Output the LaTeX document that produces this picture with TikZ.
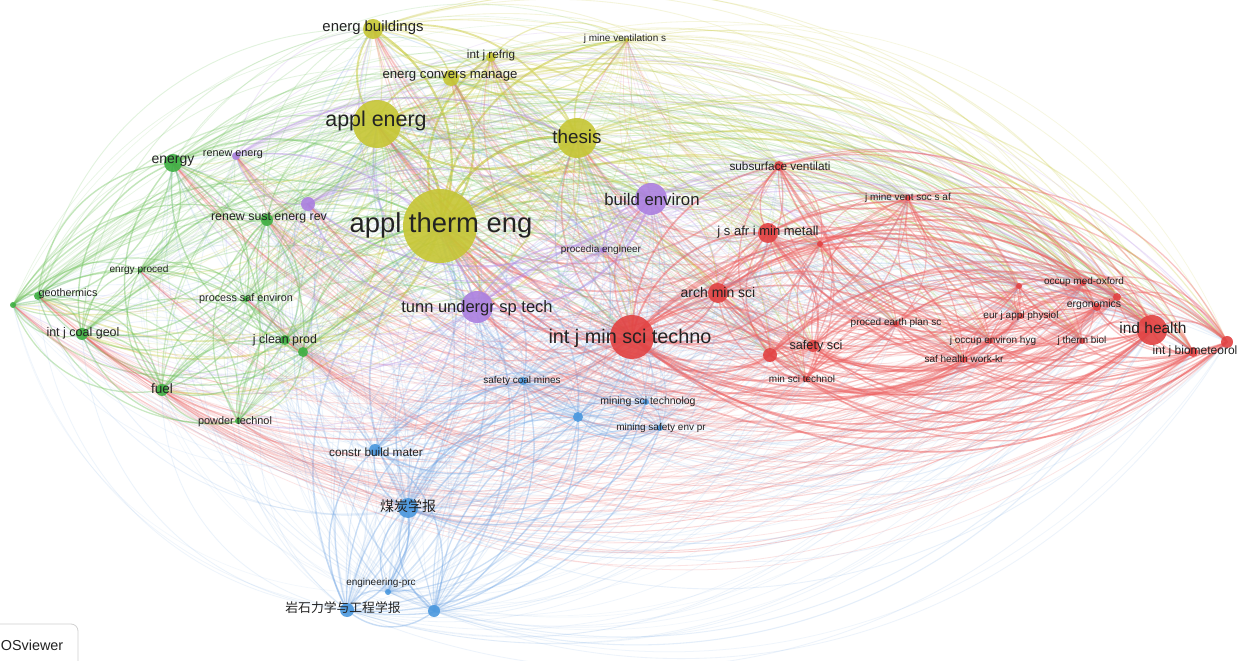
\documentclass[tikz,border=0pt]{standalone}
\usepackage{fontspec}
\setmainfont{Liberation Sans}
\newfontfamily\cjk{Noto Sans CJK SC}
\definecolor{K1}{RGB}{198,198,52}
\definecolor{K2}{RGB}{62,176,66}
\definecolor{K3}{RGB}{172,128,224}
\definecolor{K4}{RGB}{226,66,66}
\definecolor{K5}{RGB}{74,152,222}
\definecolor{E1}{RGB}{205,205,70}
\definecolor{E2}{RGB}{110,195,90}
\definecolor{E3}{RGB}{185,145,230}
\definecolor{E4}{RGB}{238,100,100}
\definecolor{E5}{RGB}{120,170,230}
\definecolor{labtext}{RGB}{35,35,35}
\pgfdeclarelayer{back}
\pgfdeclarelayer{bg}
\pgfsetlayers{back,bg,main}
\def\SC{0.25}
\tikzset{
  vnode/.style={circle, inner sep=0pt, draw=none, fill opacity=0.9},
  lab/.style={text=labtext, inner sep=0pt},
  vosbox/.style={draw=black!18, rounded corners=1.75pt, fill=white, line width=0.2pt}
}
\newcommand\vn[5]{%
  \pgfmathsetmacro\nsz{2*#4*\SC}%
  \node[vnode, fill=K#5, minimum size=\nsz pt] (n#1) at (#2,#3) {};
  \expandafter\xdef\csname vcl#1\endcsname{#5}%
  \expandafter\xdef\csname vrd#1\endcsname{#4}}
\newcommand\vl[5]{%
  \pgfmathsetmacro\fsz{#4*\SC}%
  \node[lab, font=\fontsize{\fsz}{\fsz}\selectfont] (t#1) at (#2,#3) {#5};}
\begin{document}
\begin{tikzpicture}[x=\SC pt,y=-\SC pt]
\useasboundingbox (0,0) rectangle (1239,661);
\begin{pgfonlayer}{back}
\fill[white] (0,0) rectangle (1239,661);
\end{pgfonlayer}
% nodes
\vn{1}{440}{226}{37}{1}
\vn{2}{377}{124}{24}{1}
\vn{3}{577}{138}{20}{1}
\vn{4}{373}{29}{10}{1}
\vn{5}{491}{57}{5}{1}
\vn{6}{451}{78}{8}{1}
\vn{7}{627}{40}{2}{1}
\vn{8}{173}{163}{9}{2}
\vn{9}{267}{220}{6}{2}
\vn{10}{140}{271}{2}{2}
\vn{11}{38}{296}{4}{2}
\vn{12}{13}{305}{3}{2}
\vn{13}{82}{334}{6}{2}
\vn{14}{246}{299}{3}{2}
\vn{15}{285}{340}{5}{2}
\vn{16}{303}{352}{5}{2}
\vn{17}{162}{390}{6}{2}
\vn{18}{238}{421}{3}{2}
\vn{19}{236}{156}{4}{3}
\vn{20}{308}{204}{7}{3}
\vn{21}{651}{199}{16}{3}
\vn{22}{603}{250}{3}{3}
\vn{23}{477}{307}{16}{3}
\vn{24}{632}{337}{22}{4}
\vn{25}{718}{293}{10}{4}
\vn{26}{768}{233}{10}{4}
\vn{27}{820}{244}{3}{4}
\vn{28}{779}{166}{5}{4}
\vn{29}{908}{198}{3}{4}
\vn{30}{813}{346}{6}{4}
\vn{31}{770}{355}{7}{4}
\vn{32}{806}{379}{3}{4}
\vn{33}{896}{324}{3}{4}
\vn{34}{1019}{286}{3}{4}
\vn{35}{1083}{283}{3}{4}
\vn{36}{1097}{307}{4}{4}
\vn{37}{1021}{316}{3}{4}
\vn{38}{990}{341}{3}{4}
\vn{39}{1082}{341}{3}{4}
\vn{40}{964}{360}{3}{4}
\vn{41}{1152}{330}{15}{4}
\vn{42}{1193}{352}{5}{4}
\vn{43}{1227}{342}{6}{4}
\vn{44}{1117}{297}{4}{4}
\vn{45}{523}{381}{4}{5}
\vn{46}{646}{402}{3}{5}
\vn{47}{578}{417}{5}{5}
\vn{48}{660}{428}{3}{5}
\vn{49}{375}{450}{6}{5}
\vn{50}{408}{508}{10}{5}
\vn{51}{388}{592}{3}{5}
\vn{52}{347}{610}{7}{5}
\vn{53}{434}{611}{6}{5}
% edges
\begin{pgfonlayer}{bg}
\foreach \i in {1,...,52}{
  \pgfmathtruncatemacro\k{\i+1}
  \foreach \j in {\k,...,53}{
    \edef\ci{\csname vcl\i\endcsname}%
    \edef\cj{\csname vcl\j\endcsname}%
    \edef\ri{\csname vrd\i\endcsname}%
    \edef\rj{\csname vrd\j\endcsname}%
    \pgfmathtruncatemacro\pp{mod(\i+\j,2)}%
    \pgfmathtruncatemacro\same{\ci==\cj}%
    \pgfmathtruncatemacro\blu{or(\ci==5,\cj==5)*(1-\same)}%
    \pgfmathsetmacro\eo{min(0.72,0.10+0.007*(\ri+\rj)+0.22*\same-0.05*\blu)}%
    \pgfmathsetmacro\ew{(0.55+0.025*(\ri+\rj)+0.5*\same)*\SC}%
    \ifnum\pp=0 \edef\ec{E\ci}\else\edef\ec{E\cj}\fi
    \ifnum\blu=1 \def\ec{E5}\fi
    \ifnum\pp=0
      \draw[draw=\ec, draw opacity=\eo, line width=\ew pt] (n\i.center) to[bend left=40] (n\j.center);
    \else
      \draw[draw=\ec, draw opacity=\eo, line width=\ew pt] (n\i.center) to[bend right=40] (n\j.center);
    \fi
  }
}
\end{pgfonlayer}
% labels
\vl{1}{441}{225}{27.4}{appl therm eng}
\vl{2}{376}{121}{21.4}{appl energ}
\vl{3}{577}{137}{18.8}{thesis}
\vl{4}{373}{28}{14.9}{energ buildings}
\vl{5}{491}{55}{11.7}{int j refrig}
\vl{6}{450}{76}{13.2}{energ convers manage}
\vl{7}{625}{39}{10}{j mine ventilation s}
\vl{8}{173}{161}{14}{energy}
\vl{9}{269}{218}{12.4}{renew sust energ rev}
\vl{10}{139}{270}{10.1}{enrgy proced}
\vl{11}{68}{294}{10.8}{geothermics}
\vl{13}{83}{333}{12.5}{int j coal geol}
\vl{14}{246}{299}{10.8}{process saf environ}
\vl{15}{285}{340}{12.4}{j clean prod}
\vl{17}{162}{389}{13.6}{fuel}
\vl{18}{235}{422}{10.9}{powder technol}
\vl{19}{233}{155}{10.8}{renew energ}
\vl{21}{652}{200}{16.8}{build environ}
\vl{22}{601}{250}{10}{procedia engineer}
\vl{23}{477}{308}{16.5}{tunn undergr sp tech}
\vl{24}{630}{338}{19.8}{int j min sci techno}
\vl{25}{718}{293}{14}{arch min sci}
\vl{26}{768}{232}{13}{j s afr i min metall}
\vl{28}{780}{166}{11.8}{subsurface ventilati}
\vl{29}{908}{198}{10}{j mine vent soc s af}
\vl{30}{816}{346}{12.7}{safety sci}
\vl{32}{802}{379}{10}{min sci technol}
\vl{33}{896}{323}{10}{proced earth plan sc}
\vl{35}{1084}{282}{10}{occup med-oxford}
\vl{36}{1094}{305}{10.5}{ergonomics}
\vl{37}{1021}{316}{10}{eur j appl physiol}
\vl{38}{993}{341}{10}{j occup environ hyg}
\vl{39}{1082}{341}{10}{j therm biol}
\vl{40}{964}{359}{10}{saf health work-kr}
\vl{41}{1153}{328}{15.5}{ind health}
\vl{42}{1195}{351}{12}{int j biometeorol}
\vl{45}{522}{381}{10}{safety coal mines}
\vl{46}{648}{402}{10.5}{mining sci technolog}
\vl{48}{661}{428}{10}{mining safety env pr}
\vl{49}{376}{452}{11.8}{constr build mater}
\vl{50}{408}{506}{14}{\cjk 煤炭学报}
\vl{51}{381}{583}{10}{engineering-prc}
\vl{52}{343}{608}{12.8}{\cjk 岩石力学与工程学报}
% VOSviewer box
\draw[vosbox] (-20,624) rectangle (78,680);
\node[lab, font=\fontsize{3.6}{3.6}\selectfont, anchor=west] (vos) at (0,645) {OSviewer};
\end{tikzpicture}
\end{document}
